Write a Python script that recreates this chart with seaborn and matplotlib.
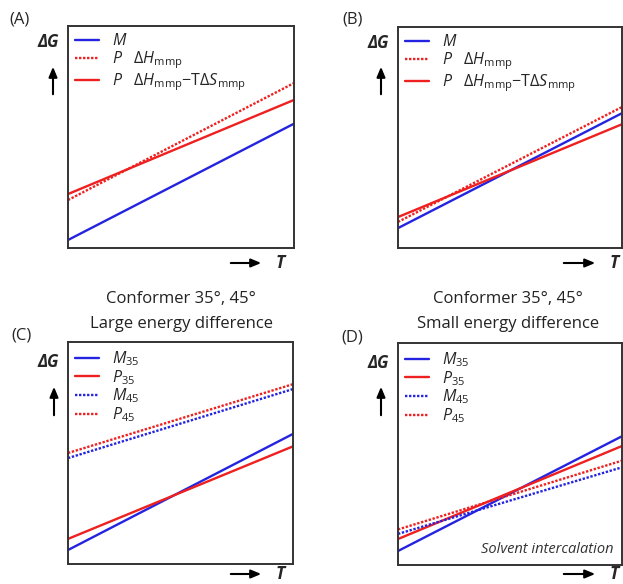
import matplotlib
matplotlib.use("Agg")
import matplotlib.pyplot as plt
import seaborn as sns
import pandas as pd

sns.set_style("white")
FONT = "Open Sans"
plt.rcParams["font.family"] = [FONT, "DejaVu Sans"]
plt.rcParams["mathtext.fontset"] = "custom"
plt.rcParams["mathtext.rm"] = FONT
plt.rcParams["mathtext.it"] = f"{FONT}:italic"
plt.rcParams["mathtext.bf"] = f"{FONT}:bold"

# ---- data: x positions (left/right edge of T range) and Delta G fractions ----
T_range = [0.0, 1.0]

# Panel A
A_labels = [r"$M$", r"$P$   $\Delta H_{\mathrm{mmp}}$", r"$P$   $\Delta H_{\mathrm{mmp}}$$-$T$\Delta S_{\mathrm{mmp}}$"]
A_M = [0.036, 0.56]
A_P_H = [0.216, 0.743]
A_P_HS = [0.243, 0.667]

# Panel B
B_M = [0.09, 0.61]
B_P_H = [0.118, 0.638]
B_P_HS = [0.14, 0.56]

# Panel C
CD_labels = [r"$M_{35}$", r"$P_{35}$", r"$M_{45}$", r"$P_{45}$"]
C_M35 = [0.063, 0.586]
C_P35 = [0.113, 0.53]
C_M45 = [0.477, 0.788]
C_P45 = [0.50, 0.81]

# Panel D
D_M35 = [0.063, 0.58]
D_P35 = [0.117, 0.536]
D_M45 = [0.14, 0.44]
D_P45 = [0.16, 0.47]

BLUE = "#2424e0"
RED = "#ee2020"
DOT = (0, (1.0, 0.7))
LW = 1.7

W, H = 623, 584
fig = plt.figure(figsize=(W / 100, H / 100), dpi=100)


def px_ax(x0, y0, x1, y1):
    return fig.add_axes([x0 / W, 1 - y1 / H, (x1 - x0) / W, (y1 - y0) / H])


def draw(ax, series):
    for lab, vals, color, ls in series:
        df = pd.DataFrame({"T": T_range, "G": vals})
        sns.lineplot(data=df, x="T", y="G", ax=ax, color=color, linestyle=ls,
                     linewidth=LW, label=lab)
    ax.set_xlim(0, 1)
    ax.set_ylim(0, 1)
    ax.set_xticks([])
    ax.set_yticks([])
    ax.set_xlabel("")
    ax.set_ylabel("")
    for s in ax.spines.values():
        s.set_color("#333333")
        s.set_linewidth(1.4)
    ax.legend(loc="upper left", frameon=False, fontsize=11.5, handlelength=1.5,
              handletextpad=0.8, labelspacing=0.0, borderaxespad=0.25,
              borderpad=0.2)


def fig_text(x, y, s, **kw):
    fig.text(x / W, 1 - y / H, s, ha="center", va="center", **kw)


def fig_arrow(x0, y0, x1, y1):
    fig.add_artist(matplotlib.patches.FancyArrowPatch(
        (x0 / W, 1 - y0 / H), (x1 / W, 1 - y1 / H), transform=fig.transFigure,
        arrowstyle="-|>,head_length=6,head_width=2.5", color="black", lw=1.5))


axA = px_ax(68, 26, 294, 248)
draw(axA, [(A_labels[0], A_M, BLUE, "-"), (A_labels[1], A_P_H, RED, DOT),
           (A_labels[2], A_P_HS, RED, "-")])
axB = px_ax(398, 27, 622, 248)
draw(axB, [(A_labels[0], B_M, BLUE, "-"), (A_labels[1], B_P_H, RED, DOT),
           (A_labels[2], B_P_HS, RED, "-")])
axC = px_ax(68, 342, 293, 564)
draw(axC, [(CD_labels[0], C_M35, BLUE, "-"), (CD_labels[1], C_P35, RED, "-"),
           (CD_labels[2], C_M45, BLUE, DOT), (CD_labels[3], C_P45, RED, DOT)])
axD = px_ax(398, 343, 622, 565)
draw(axD, [(CD_labels[0], D_M35, BLUE, "-"), (CD_labels[1], D_P35, RED, "-"),
           (CD_labels[2], D_M45, BLUE, DOT), (CD_labels[3], D_P45, RED, DOT)])

# panel letters
fig_text(20, 19, "(A)", fontsize=12)
fig_text(353, 20, "(B)", fontsize=12)
fig_text(21, 336, "(C)", fontsize=12)
fig_text(352, 338, "(D)", fontsize=12)

# Delta G labels + arrows
for (gx, gy, ax_x, ay0, ay1) in [(48, 42, 53, 97, 64), (378, 43, 381, 97, 64),
                                 (48, 362, 54, 418, 384), (378, 363, 381, 418, 384)]:
    fig_text(gx, gy, "ΔG", fontsize=12, fontweight="bold", fontstyle="italic")
    fig_arrow(ax_x, ay0, ax_x, ay1)

# T labels + arrows
for (x0, x1, tx, ty) in [(228, 264, 280, 263), (561, 598, 614, 263),
                         (228, 264, 280, 574), (561, 598, 614, 574)]:
    fig_arrow(x0, ty, x1, ty)
    fig_text(tx, ty, "T", fontsize=12.5, fontweight="bold", fontstyle="italic")

# titles for C and D
fig_text(181, 299, "Conformer 35°, 45°", fontsize=12, color="#222222")
fig_text(182, 324, "Large energy difference", fontsize=12, color="#222222")
fig_text(508, 299, "Conformer 35°, 45°", fontsize=12, color="#222222")
fig_text(508, 324, "Small energy difference", fontsize=12, color="#222222")

axD.text(0.96, 0.07, "Solvent intercalation", transform=axD.transAxes,
         ha="right", va="center", fontsize=10.5, fontstyle="italic", color="#333333")

fig.savefig("out.png", dpi=100)
